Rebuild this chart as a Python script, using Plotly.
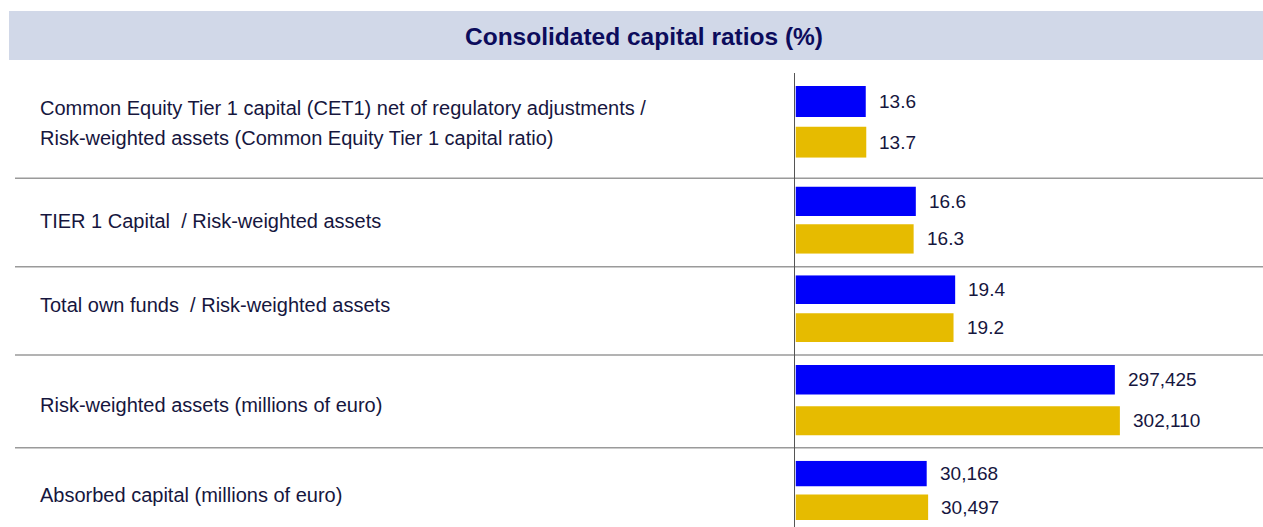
import plotly.graph_objects as go

# ---- data ----
categories = [
    ["Common Equity Tier 1 capital (CET1) net of regulatory adjustments /",
     "Risk-weighted assets (Common Equity Tier 1 capital ratio)"],
    ["TIER 1 Capital\u00a0 / Risk-weighted assets"],
    ["Total own funds\u00a0 / Risk-weighted assets"],
    ["Risk-weighted assets (millions of euro)"],
    ["Absorbed capital (millions of euro)"],
]
series_blue = [13.6, 16.6, 19.4, 297425, 30168]
series_gold = [13.7, 16.3, 19.2, 302110, 30497]
value_formats = [".1f", ".1f", ".1f", ",.0f", ",.0f"]
title_text = "Consolidated capital ratios (%)"

# ---- styles / layout helpers ----
W, H = 1263, 527
BLUE = "#0000fa"
GOLD = "#e6bb00"
TEXT = "#16163e"
TITLE = "#0c0c5c"
FONT = "Liberation Sans, Arial, sans-serif"


def px_x(p):
    return p / W


def px_y(p):
    return 1 - p / H


# per row: blue centre px, gold centre px, bar thickness px
row_geom = [(101.5, 142.2, 31), (201.3, 238.9, 29.5), (289.7, 327.7, 28.7),
            (379.8, 420.9, 29.4), (473.5, 507.2, 25.4)]
row_xmax = [90.5, 64.5, 56.8, 435400, 107500]
label_y = [[107.5, 137.5], [220.5], [304.5], [404.5], [494.5]]
separators = [178.3, 266.7, 355.0, 447.7]
bar_x0 = 795.5

fig = go.Figure()
annotations = []
shapes = []

for i in range(len(series_blue)):
    n = i + 1
    xa = "x" if n == 1 else f"x{n}"
    ya = "y" if n == 1 else f"y{n}"
    c1, c2, h = row_geom[i]
    ppu = c2 - c1
    w = h / ppu
    top = c1 - w / 2 * ppu
    bot = c2 + w / 2 * ppu
    fig.add_trace(go.Bar(
        x=[series_blue[i], series_gold[i]], y=[1, 0], orientation="h",
        width=w, marker=dict(color=[BLUE, GOLD], line=dict(width=0)),
        xaxis=xa, yaxis=ya, showlegend=False, hoverinfo="x",
    ))
    fig.layout[f"xaxis{'' if n == 1 else n}"] = dict(
        domain=[px_x(bar_x0), 1], range=[0, row_xmax[i]], visible=False,
        anchor=ya, fixedrange=True)
    fig.layout[f"yaxis{'' if n == 1 else n}"] = dict(
        domain=[px_y(bot), px_y(top)], range=[-w / 2, 1 + w / 2],
        visible=False, anchor=xa, fixedrange=True)
    for val, yv in ((series_blue[i], 1), (series_gold[i], 0)):
        annotations.append(dict(
            x=val, y=yv, xref=xa, yref=ya, xanchor="left", yanchor="middle",
            xshift=11, showarrow=False, text=format(val, value_formats[i]),
            font=dict(family=FONT, size=19, color=TEXT)))
    for line, ly in zip(categories[i], label_y[i]):
        annotations.append(dict(
            x=px_x(38), y=px_y(ly), xref="paper", yref="paper",
            xanchor="left", yanchor="middle", showarrow=False, text=line,
            font=dict(family=FONT, size=20, color=TEXT)))

# title band
shapes.append(dict(type="rect", xref="paper", yref="paper",
                   x0=px_x(9), x1=1, y0=px_y(60), y1=px_y(11),
                   fillcolor="#d1d8e8", line=dict(width=0), layer="below"))
annotations.append(dict(x=px_x(644), y=px_y(36.5), xref="paper", yref="paper",
                        xanchor="center", yanchor="middle", showarrow=False,
                        text=f"<b>{title_text}</b>",
                        font=dict(family=FONT, size=24.5, color=TITLE)))
# separators
for s in separators:
    shapes.append(dict(type="line", xref="paper", yref="paper",
                       x0=px_x(15), x1=1, y0=px_y(s), y1=px_y(s),
                       line=dict(color="#9a9a9a", width=1.5)))
# vertical axis line
shapes.append(dict(type="line", xref="paper", yref="paper",
                   x0=px_x(794.5), x1=px_x(794.5), y0=0, y1=px_y(73),
                   line=dict(color="#555555", width=1)))

fig.update_layout(
    width=W, height=H, margin=dict(l=0, r=0, t=0, b=0),
    paper_bgcolor="white", plot_bgcolor="rgba(0,0,0,0)",
    annotations=annotations, shapes=shapes, showlegend=False,
    font=dict(family=FONT),
)

fig.write_html("out.html", config={"displayModeBar": False},
               post_script="document.body.style.margin='0';")
